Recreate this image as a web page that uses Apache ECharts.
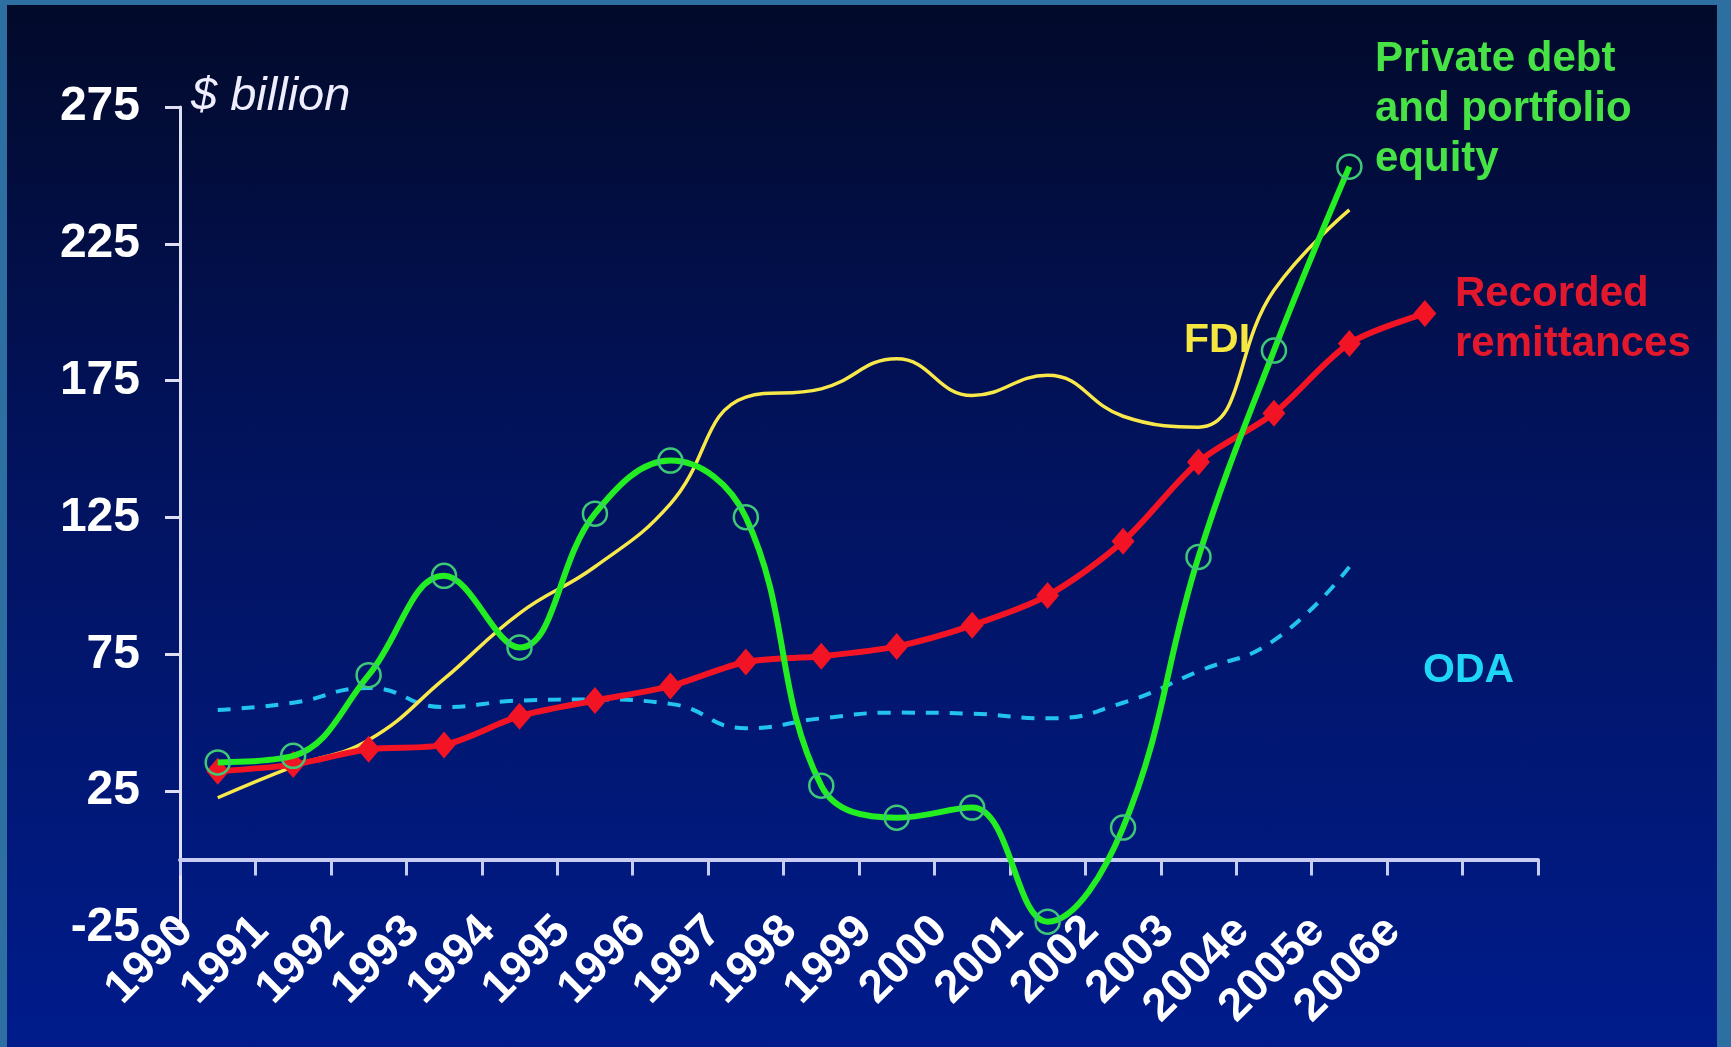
<!DOCTYPE html>
<html><head><meta charset="utf-8">
<script src="https://cdn.jsdelivr.net/npm/echarts@6/dist/echarts.min.js"></script>
<style>
html,body{margin:0;padding:0;width:1731px;height:1047px;overflow:hidden;background:#2c6fa0;}
#panel{position:absolute;left:7px;top:5px;width:1710px;height:1042px;background:linear-gradient(to bottom,#020a2a 0%,#02125a 40%,#001c8c 100%);}
#chart{position:absolute;left:0;top:0;width:1731px;height:1047px;}
</style></head><body>
<div id="panel"></div><div id="chart"></div>
<script>
// ---- data ----
const years = ['1990','1991','1992','1993','1994','1995','1996','1997','1998','1999','2000','2001','2002','2003','2004e','2005e','2006e'];
const remittances = [32.3, 34.7, 40.3, 41.9, 52.4, 58.1, 63.4, 72.2, 74.3, 77.9, 85.6, 96.5, 116.3, 145.3, 163.1, 188.6, 199.5];
const privateDebt = [35.5, 37.9, 67.4, 103.7, 77.5, 126.4, 145.8, 125.1, 27.0, 15.3, 19.0, -22.7, 11.7, 110.6, 186.0, 253.2];
const fdi = [22.6, 34.0, 43.7, 66.0, 90.0, 107.0, 130.0, 169.0, 172.0, 183.0, 169.6, 177.0, 162.0, 158.0, 208.0, 237.4];
const oda = [54.7, 57.3, 62.7, 55.7, 58.1, 58.5, 56.9, 48.0, 51.6, 53.7, 53.3, 51.6, 57.3, 68.8, 80.1, 107.0];
const yTicks = [-25, 25, 75, 125, 175, 225, 275];
const unitLabel = '$ billion';
const seriesLabels = {
  privateDebt: 'Private debt\nand portfolio\nequity',
  remittances: 'Recorded\nremittances',
  fdi: 'FDI',
  oda: 'ODA'
};

const FONT = 'Liberation Sans, Arial, sans-serif';
const chart = echarts.init(document.getElementById('chart'), null, {renderer: 'canvas'});
const axisColor = '#c8cbf2';

chart.setOption({
  backgroundColor: 'transparent',
  animation: false,
  grid: [
    {left: 180, right: 193, top: 107, bottom: 119},
    {left: 186, right: 187, top: 107, bottom: 129}
  ],
  xAxis: [
    {
      type: 'category', gridIndex: 0,
      data: years.concat(['']),
      boundaryGap: true,
      axisLine: {show: true, onZero: true, lineStyle: {color: axisColor, width: 4}},
      axisTick: {show: true, interval: 0, length: 16, lineStyle: {color: axisColor, width: 3}},
      axisLabel: {show: false},
      splitLine: {show: false}
    },
    {
      type: 'category', gridIndex: 1,
      data: years.concat(['', '']),
      boundaryGap: false,
      position: 'bottom',
      axisLine: {show: false, onZero: false},
      axisTick: {show: false},
      axisLabel: {interval: 0, rotate: 45, margin: 6, color: '#ffffff', fontSize: 46, fontWeight: 'bold', fontFamily: FONT},
      splitLine: {show: false}
    }
  ],
  yAxis: [
    {
      type: 'value', gridIndex: 0, min: -25, max: 275,
      axisLine: {show: true, onZero: false, lineStyle: {color: '#dedff2', width: 3}},
      axisTick: {show: true, length: 15, customValues: yTicks, lineStyle: {color: '#dedff2', width: 3}},
      axisLabel: {customValues: yTicks, margin: 40, color: '#ffffff', fontSize: 48, fontWeight: 'bold', fontFamily: FONT},
      splitLine: {show: false}
    },
    {type: 'value', gridIndex: 1, min: -25, max: 275, show: false}
  ],
  series: [
    {
      name: 'ODA', type: 'line', xAxisIndex: 0, yAxisIndex: 0,
      data: oda, smooth: 0.5, showSymbol: false, z: 2,
      lineStyle: {color: '#22c4ef', width: 4, type: [13, 11]}
    },
    {
      name: 'FDI', type: 'line', xAxisIndex: 0, yAxisIndex: 0,
      data: fdi, smooth: 0.45, showSymbol: false, z: 3,
      lineStyle: {color: '#f8e84a', width: 3.5}
    },
    {
      name: 'Recorded remittances', type: 'line', xAxisIndex: 0, yAxisIndex: 0,
      data: remittances, smooth: 0.3, symbol: 'diamond', symbolSize: [23, 27], showAllSymbol: true, z: 4,
      lineStyle: {color: '#f21424', width: 6},
      itemStyle: {color: '#f21424'}
    },
    {
      name: 'Private debt and portfolio equity', type: 'line', xAxisIndex: 0, yAxisIndex: 0,
      data: privateDebt, smooth: 0.4, symbol: 'circle', symbolSize: 24, showAllSymbol: true, z: 5,
      lineStyle: {color: '#22ee22', width: 6},
      itemStyle: {color: 'rgba(0,0,0,0)', borderColor: '#3fc878', borderWidth: 2.5}
    }
  ],
  graphic: [
    {type: 'text', x: 191, y: 97, silent: true, z: 10,
      style: {text: unitLabel, fill: '#eeeeff', font: 'italic 47px ' + FONT, verticalAlign: 'middle'}},
    {type: 'text', x: 1375, y: 34, silent: true, z: 10,
      style: {text: seriesLabels.privateDebt, fill: '#46e246', font: 'bold 42px ' + FONT, lineHeight: 50, verticalAlign: 'top'}},
    {type: 'text', x: 1455, y: 269, silent: true, z: 10,
      style: {text: seriesLabels.remittances, fill: '#e4182c', font: 'bold 42px ' + FONT, lineHeight: 50, verticalAlign: 'top'}},
    {type: 'text', x: 1184, y: 341, silent: true, z: 1,
      style: {text: seriesLabels.fdi, fill: '#f6e640', font: 'bold 41px ' + FONT, verticalAlign: 'middle'}},
    {type: 'text', x: 1423, y: 671, silent: true, z: 10,
      style: {text: seriesLabels.oda, fill: '#1fd6f6', font: 'bold 41px ' + FONT, verticalAlign: 'middle'}}
  ]
});
</script>
</body></html>
